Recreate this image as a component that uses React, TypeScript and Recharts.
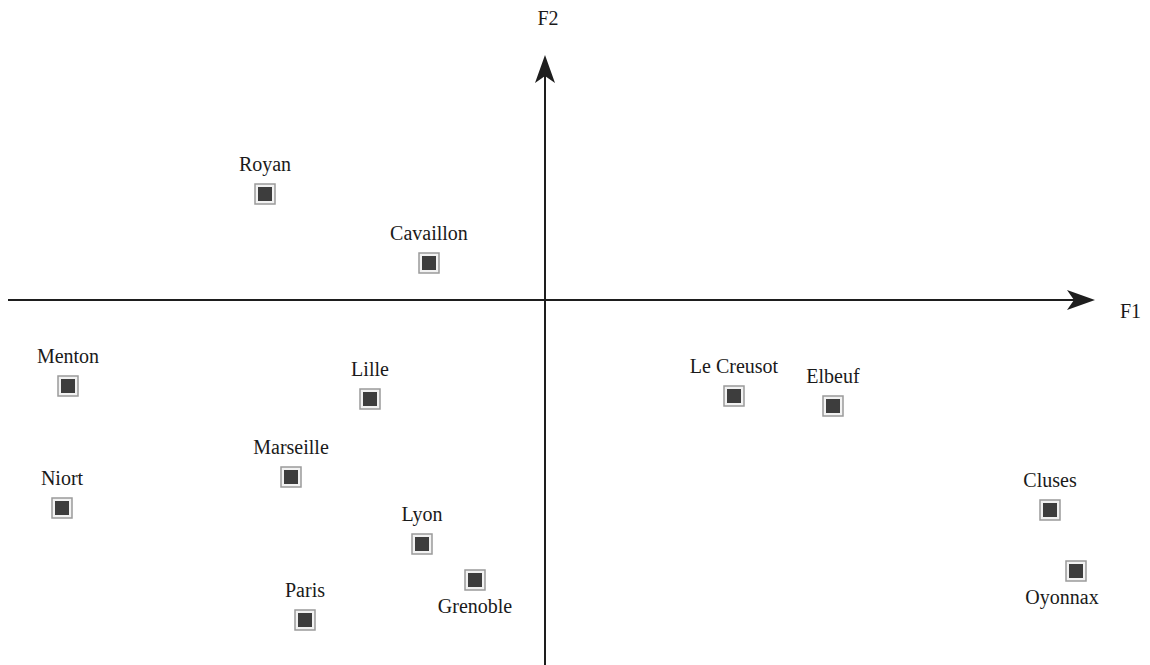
import React from 'react';
import { ScatterChart, Scatter, XAxis, YAxis, ReferenceLine, ReferenceDot } from 'recharts';

const cities = ['Royan', 'Cavaillon', 'Menton', 'Lille', 'Marseille', 'Niort', 'Lyon', 'Grenoble', 'Paris', 'Le Creusot', 'Elbeuf', 'Cluses', 'Oyonnax'];
const f1 = [-2.80, -1.16, -4.77, -1.75, -2.54, -4.83, -1.23, -0.70, -2.40, 1.89, 2.88, 5.05, 5.31];
const f2 = [1.06, 0.37, -0.86, -0.99, -1.77, -2.08, -2.44, -2.80, -3.20, -0.96, -1.06, -2.10, -2.71];
const labelBelow = ['Grenoble', 'Oyonnax'];
const axisNames = ['F1', 'F2'];

const data = cities.map((name, i) => ({ name, f1: f1[i], f2: f2[i], below: labelBelow.includes(name) }));

const FONT = '"Liberation Serif", "DejaVu Serif", serif';

const CityMarker = (props: any) => {
  const { cx, cy, payload } = props;
  const dx = payload.name === 'Oyonnax' ? -14 : 0;
  return (
    <g>
      <rect x={cx - 10} y={cy - 10} width={20} height={20} fill="#f2f2f2" stroke="#9a9a9a" strokeWidth={1.5} />
      <rect x={cx - 7} y={cy - 7} width={14} height={14} fill="#3d3d3d" />
      <text
        x={cx + dx}
        y={payload.below ? cy + 33 : cy - 23}
        textAnchor="middle"
        fontFamily={FONT}
        fontSize={20}
        fill="#1a1a1a"
      >
        {payload.name}
      </text>
    </g>
  );
};

const RightArrow = (props: any) => {
  const { cx, cy } = props;
  return (
    <g>
      <polygon points={`${cx},${cy} ${cx - 28},${cy - 10} ${cx - 21},${cy} ${cx - 28},${cy + 10}`} fill="#1e1e1e" />
      <text x={cx + 25} y={cy + 18} fontFamily={FONT} fontSize={20} fill="#1a1a1a">{axisNames[0]}</text>
    </g>
  );
};

const UpArrow = (props: any) => {
  const { cx, cy } = props;
  return (
    <g>
      <polygon points={`${cx},${cy} ${cx - 10},${cy + 28} ${cx},${cy + 21} ${cx + 10},${cy + 28}`} fill="#1e1e1e" />
      <text x={cx + 3} y={cy - 30} textAnchor="middle" fontFamily={FONT} fontSize={20} fill="#1a1a1a">{axisNames[1]}</text>
    </g>
  );
};

export default function App() {
  return (
    <div style={{ position: 'absolute', left: 0, top: 0, width: 1150, height: 665, background: '#ffffff' }}>
      <ScatterChart width={1150} height={665} margin={{ top: 0, right: 0, bottom: 0, left: 0 }}>
        <XAxis type="number" dataKey="f1" domain={[-5.45, 6.05]} hide allowDataOverflow />
        <YAxis type="number" dataKey="f2" domain={[-3.65, 3.0]} hide allowDataOverflow />
        <ReferenceLine
          segment={[{ x: -5.37, y: 0 }, { x: 5.35, y: 0 }]}
          stroke="#1e1e1e"
          strokeWidth={2}
          ifOverflow="visible"
        />
        <ReferenceLine
          segment={[{ x: 0, y: -3.65 }, { x: 0, y: 2.3 }]}
          stroke="#1e1e1e"
          strokeWidth={2}
          ifOverflow="visible"
        />
        <ReferenceDot x={5.5} y={0} r={1} shape={RightArrow} ifOverflow="visible" />
        <ReferenceDot x={0} y={2.45} r={1} shape={UpArrow} ifOverflow="visible" />
        <Scatter data={data} shape={CityMarker} isAnimationActive={false} />
      </ScatterChart>
    </div>
  );
}
